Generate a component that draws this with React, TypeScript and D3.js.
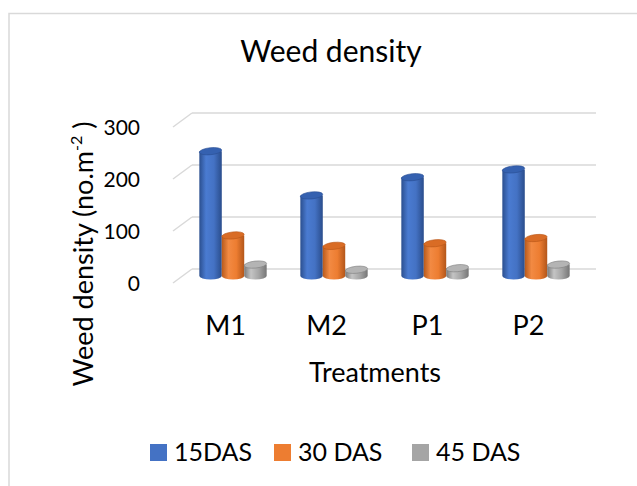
import * as d3 from "d3";

// chart values
const categories = ["M1", "M2", "P1", "P2"];
const seriesNames = ["15DAS", "30 DAS", "45 DAS"];
const das15 = [240, 155, 190, 205];
const das30 = [78, 58, 63, 73];
const das45 = [22, 12, 15, 22];
const yTicks = [0, 100, 200, 300];

const W = 637;
const H = 486;
const FONT = "Lato, 'Open Sans', sans-serif";

// 3D wall geometry (front plane + depth offset)
const depthX = 19;
const depthY = -14;

const palettes = [
  { side: ["#2b4f8f", "#4a7bd1", "#4472c4", "#2a4d8c"], top: "#3561b0", rim: "#2a4f94" },
  { side: ["#b85a1c", "#f28a43", "#ed7d31", "#b3561a"], top: "#d96c25", rim: "#b85718" },
  { side: ["#7a7a7a", "#c4c4c4", "#a5a5a5", "#767676"], top: "#b4b4b4", rim: "#7f7f7f" },
];

const App = () => {
  const series = [das15, das30, das45];

  const x = d3.scaleBand<string>().domain(categories).range([173, 577]).padding(0);
  const xs = d3
    .scaleBand<string>()
    .domain(seriesNames)
    .range([0, x.bandwidth()])
    .paddingInner(0)
    .paddingOuter(0.75);
  const y = d3.scaleLinear().domain([0, 300]).range([283, 127]);

  const ry = 3.5;
  const midX = depthX / 2;
  const midY = depthY / 2;

  const legendX = [150, 274, 412];

  return (
    <svg
      width={W}
      height={H}
      style={{ position: "absolute", left: 0, top: 0, background: "#fff" }}
      fontFamily={FONT}
    >
      <defs>
        {palettes.map((p, i) => (
          <linearGradient key={i} id={`side${i}`} x1="0" x2="1" y1="0" y2="0">
            <stop offset="0%" stopColor={p.side[0]} />
            <stop offset="30%" stopColor={p.side[1]} />
            <stop offset="65%" stopColor={p.side[2]} />
            <stop offset="100%" stopColor={p.side[3]} />
          </linearGradient>
        ))}
      </defs>

      {/* chart area border */}
      <rect x={9} y={13.5} width={W} height={H} fill="none" stroke="#d9d9d9" strokeWidth={1.5} />

      {/* title */}
      <text x={331} y={62} textAnchor="middle" fontSize={30} fill="#000">
        Weed density
      </text>

      {/* gridlines on the back wall with the diagonal floor edges */}
      {yTicks.map((t) => (
        <g key={t} stroke="#d9d9d9" strokeWidth={1.5} fill="none">
          <line x1={173} y1={y(t)} x2={173 + depthX} y2={y(t) + depthY} />
          <line x1={173 + depthX} y1={y(t) + depthY} x2={577 + depthX} y2={y(t) + depthY} />
        </g>
      ))}

      {/* tick labels */}
      {yTicks.map((t) => (
        <text key={t} x={140} y={y(t) + 8} textAnchor="end" fontSize={21} fill="#000">
          {t}
        </text>
      ))}

      {/* cylinders */}
      {categories.map((c, ci) => (
        <g key={c}>
          {seriesNames.map((s, si) => {
            const v = series[si][ci];
            const w = xs.bandwidth();
            const x0 = (x(c) ?? 0) + (xs(s) ?? 0) + midX;
            const yb = y(0) + midY;
            const yt = y(v) + midY;
            const p = palettes[si];
            return (
              <g key={s}>
                <path
                  d={`M${x0},${yt} L${x0},${yb} A${w / 2},${ry} 0 0 0 ${x0 + w},${yb} L${x0 + w},${yt} Z`}
                  fill={`url(#side${si})`}
                />
                <ellipse
                  cx={x0 + w / 2}
                  cy={yt}
                  rx={w / 2}
                  ry={ry}
                  fill={p.top}
                  stroke={p.rim}
                  strokeWidth={0.6}
                  transform={`rotate(-6 ${x0 + w / 2} ${yt})`}
                />
              </g>
            );
          })}
        </g>
      ))}

      {/* category labels */}
      {categories.map((c) => (
        <text
          key={c}
          x={(x(c) ?? 0) + x.bandwidth() / 2 + 2}
          y={335}
          textAnchor="middle"
          fontSize={27}
          fill="#000"
        >
          {c}
        </text>
      ))}

      {/* axis titles */}
      <text x={375} y={382} textAnchor="middle" fontSize={27} fill="#000">
        Treatments
      </text>
      <text
        transform="translate(93,254) rotate(-90)"
        textAnchor="middle"
        fontSize={27}
        fill="#000"
      >
        Weed density (no.m
        <tspan fontSize={16} dy={-11}>
          -2
        </tspan>
        <tspan dy={11}> )</tspan>
      </text>

      {/* legend */}
      {seriesNames.map((s, i) => (
        <g key={s}>
          <rect x={legendX[i]} y={444} width={17} height={17} fill={palettes[i].side[2]} />
          <text x={legendX[i] + 24} y={461} fontSize={25} fill="#000">
            {s}
          </text>
        </g>
      ))}
    </svg>
  );
};

export default App;
